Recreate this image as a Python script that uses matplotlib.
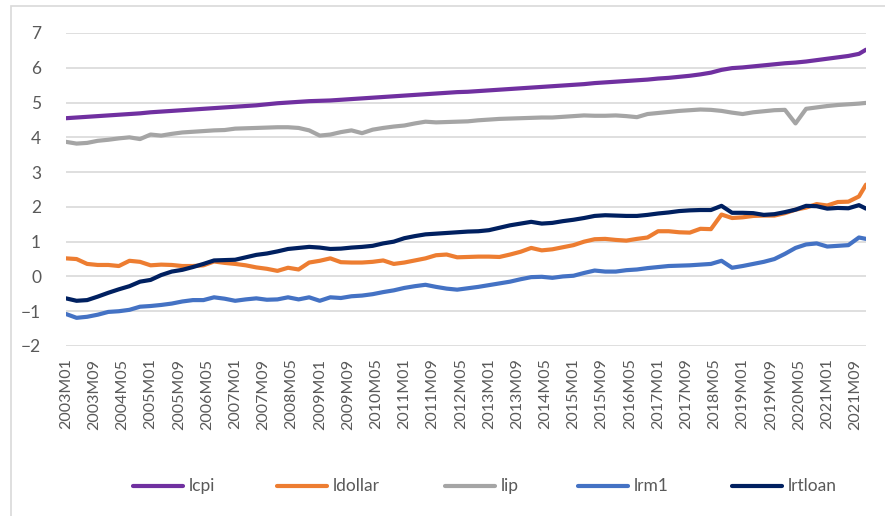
import matplotlib
matplotlib.use("Agg")
from matplotlib import pyplot as plt
from matplotlib.lines import Line2D
from matplotlib.patches import Rectangle

plt.rcParams['font.family'] = ['Lato', 'DejaVu Sans']

# 月度类别 2003M01 - 2021M12
months = [f"{y}M{m:02d}" for y in range(2003, 2022) for m in range(1, 13)]
# 读图取值：每季度一个点，外加最后一个月
dates = months[::3] + [months[-1]]

lcpi = [4.55, 4.57, 4.59, 4.61, 4.63, 4.65, 4.67, 4.69, 4.72, 4.74,
        4.76, 4.78, 4.80, 4.82, 4.84, 4.86, 4.88, 4.90, 4.92, 4.95,
        4.98, 5.00, 5.02, 5.04, 5.05, 5.06, 5.08, 5.10, 5.12, 5.14,
        5.16, 5.18, 5.20, 5.22, 5.24, 5.26, 5.28, 5.30, 5.31, 5.33,
        5.35, 5.37, 5.39, 5.41, 5.43, 5.45, 5.47, 5.49, 5.51, 5.53,
        5.56, 5.58, 5.60, 5.62, 5.64, 5.66, 5.69, 5.71, 5.74, 5.77,
        5.81, 5.86, 5.94, 5.99, 6.01, 6.04, 6.07, 6.10, 6.13, 6.15,
        6.18, 6.22, 6.26, 6.30, 6.34, 6.40, 6.52]

ldollar = [0.52, 0.50, 0.36, 0.33, 0.33, 0.30, 0.45, 0.42, 0.32, 0.34,
           0.33, 0.30, 0.30, 0.32, 0.43, 0.39, 0.36, 0.32, 0.26, 0.22,
           0.16, 0.25, 0.20, 0.40, 0.45, 0.52, 0.41, 0.40, 0.40, 0.42,
           0.46, 0.36, 0.40, 0.46, 0.52, 0.61, 0.63, 0.55, 0.56, 0.57,
           0.57, 0.56, 0.63, 0.71, 0.82, 0.75, 0.78, 0.84, 0.90, 1.00,
           1.07, 1.08, 1.05, 1.03, 1.08, 1.12, 1.30, 1.30, 1.27, 1.26,
           1.37, 1.36, 1.78, 1.68, 1.70, 1.74, 1.75, 1.75, 1.82, 1.92,
           1.98, 2.08, 2.04, 2.14, 2.15, 2.30, 2.64]

lip = [3.87, 3.82, 3.84, 3.90, 3.93, 3.97, 4.00, 3.95, 4.08, 4.05,
       4.10, 4.14, 4.16, 4.18, 4.20, 4.21, 4.25, 4.26, 4.27, 4.28,
       4.29, 4.29, 4.27, 4.20, 4.05, 4.08, 4.15, 4.20, 4.12, 4.22,
       4.27, 4.31, 4.34, 4.40, 4.45, 4.43, 4.44, 4.45, 4.46, 4.49,
       4.51, 4.53, 4.54, 4.55, 4.56, 4.57, 4.57, 4.59, 4.61, 4.63,
       4.62, 4.62, 4.63, 4.61, 4.58, 4.67, 4.70, 4.73, 4.76, 4.78,
       4.80, 4.79, 4.76, 4.71, 4.67, 4.72, 4.75, 4.78, 4.79, 4.40,
       4.82, 4.86, 4.90, 4.93, 4.95, 4.97, 4.99]

lrm1 = [-1.08, -1.19, -1.16, -1.10, -1.02, -1.00, -0.96, -0.87, -0.85, -0.82,
        -0.78, -0.72, -0.68, -0.68, -0.60, -0.64, -0.70, -0.66, -0.63, -0.67,
        -0.66, -0.60, -0.66, -0.60, -0.70, -0.60, -0.62, -0.57, -0.55, -0.51,
        -0.45, -0.40, -0.33, -0.28, -0.24, -0.30, -0.35, -0.38, -0.34, -0.30,
        -0.25, -0.20, -0.15, -0.08, -0.02, -0.01, -0.04, 0.00, 0.02, 0.10,
        0.17, 0.14, 0.14, 0.18, 0.20, 0.24, 0.27, 0.30, 0.31, 0.32,
        0.34, 0.36, 0.45, 0.25, 0.30, 0.36, 0.42, 0.50, 0.65, 0.82,
        0.92, 0.95, 0.86, 0.88, 0.90, 1.12, 1.08]

lrtloan = [-0.63, -0.70, -0.68, -0.58, -0.47, -0.37, -0.28, -0.15, -0.10, 0.04,
           0.14, 0.19, 0.27, 0.36, 0.46, 0.47, 0.48, 0.55, 0.62, 0.66,
           0.72, 0.79, 0.82, 0.85, 0.83, 0.79, 0.80, 0.83, 0.85, 0.88,
           0.95, 1.00, 1.10, 1.16, 1.21, 1.23, 1.25, 1.27, 1.29, 1.30,
           1.33, 1.40, 1.47, 1.52, 1.57, 1.52, 1.54, 1.59, 1.63, 1.68,
           1.74, 1.76, 1.75, 1.74, 1.74, 1.77, 1.81, 1.84, 1.88, 1.90,
           1.91, 1.91, 2.03, 1.83, 1.83, 1.82, 1.77, 1.79, 1.85, 1.92,
           2.03, 2.02, 1.95, 1.97, 1.96, 2.05, 1.95]

names = ['lcpi', 'ldollar', 'lip', 'lrm1', 'lrtloan']
colors = ['#7030A0', '#ED7D31', '#A5A5A5', '#4472C4', '#002060']
series = [lcpi, ldollar, lip, lrm1, lrtloan]

x = [months.index(d) for d in dates]

fig = plt.figure(figsize=(8.85, 5.16), dpi=100)
# 图表外框
fig.add_artist(Rectangle((11 / 885, -0.01), 1.0, 1 - 6 / 516 + 0.01,
                         transform=fig.transFigure, fill=False,
                         edgecolor='#D9D9D9', linewidth=1.2))

ax = fig.add_axes([66 / 885, 1 - 346 / 516, 800 / 885, 313 / 516])
for s, c in zip(series, colors):
    ax.plot(x, s, color=c, linewidth=3.0, solid_capstyle='round')

ax.set_xlim(0, len(months) - 1)
ax.set_ylim(-2, 7)
ax.set_yticks(range(-2, 8))
ax.yaxis.grid(True, color='#D9D9D9', linewidth=1.2)
ax.set_axisbelow(True)
ax.set_xticks(range(0, len(months), 8))
ax.set_xticklabels(months[::8], rotation=90)
ax.tick_params(axis='x', length=0, pad=9, labelsize=11.5, colors='#595959')
ax.tick_params(axis='y', length=0, pad=18, labelsize=12.5, colors='#595959')
for sp in ax.spines.values():
    sp.set_visible(False)

# 图例（底部一行）
leg_x = [133, 277, 445, 578, 732]
for lx, n, c in zip(leg_x, names, colors):
    y = 1 - 486 / 516
    fig.add_artist(Line2D([lx / 885, (lx + 50) / 885], [y, y], color=c,
                          linewidth=3.0, solid_capstyle='round',
                          transform=fig.transFigure))
    fig.text((lx + 56) / 885, y, n, va='center', ha='left',
             fontsize=12.5, color='#595959')

fig.savefig('out.png', dpi=100)
